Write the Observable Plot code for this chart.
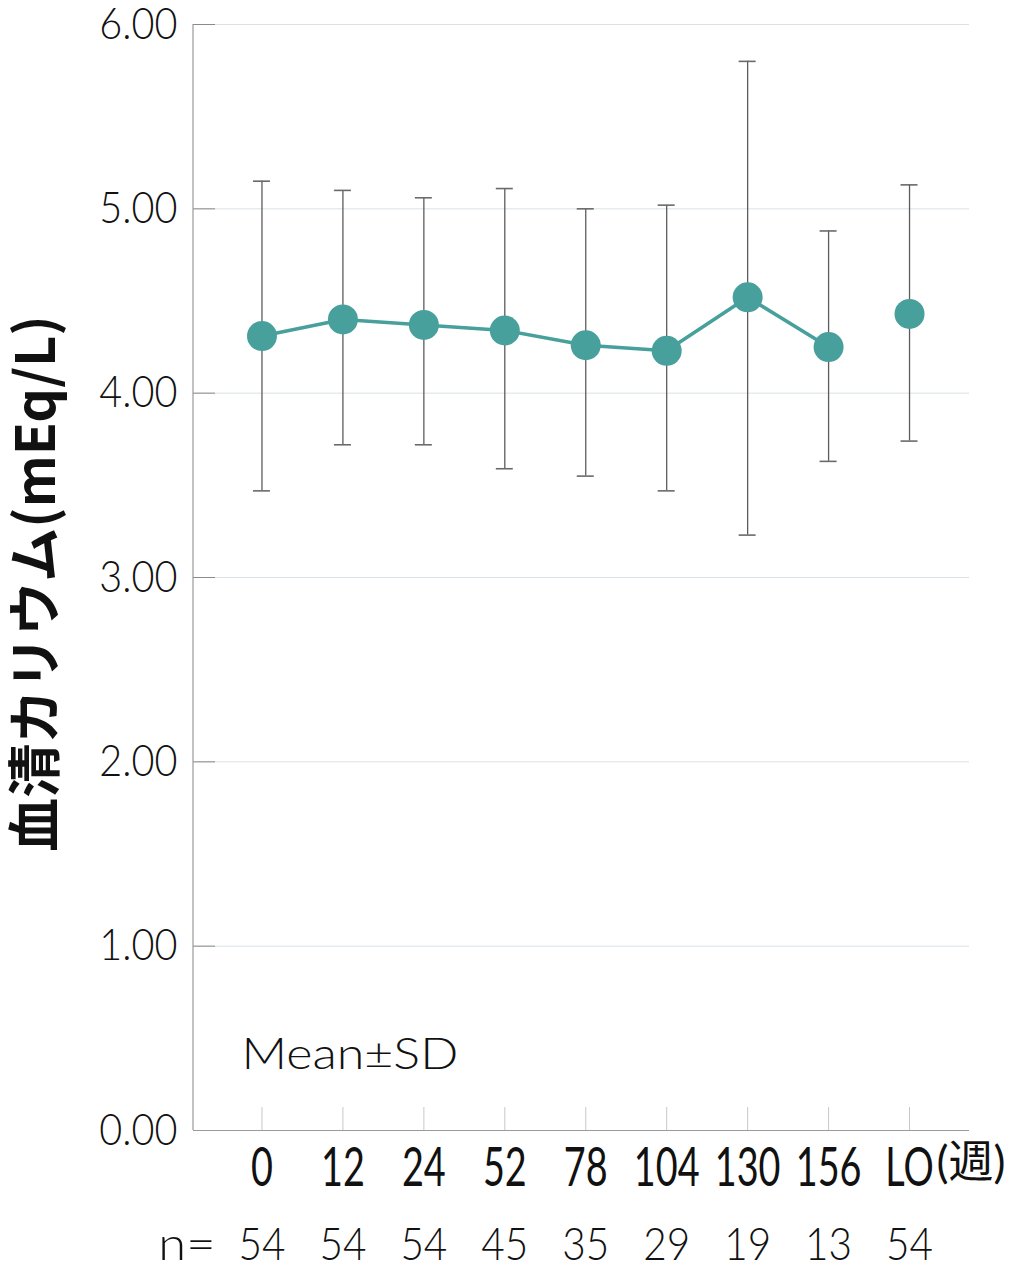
<!DOCTYPE html>
<html>
<head>
<meta charset="utf-8">
<script src="https://cdn.jsdelivr.net/npm/d3@7"></script>
<script src="https://cdn.jsdelivr.net/npm/@observablehq/plot@0.6"></script>
<style>
  html, body { margin: 0; padding: 0; background: #fff; }
</style>
</head>
<body>
<div id="chart"></div>
<script>
const weeks = ["0", "12", "24", "52", "78", "104", "130", "156", "LO"];
const means = [4.31, 4.40, 4.37, 4.34, 4.26, 4.23, 4.52, 4.25, 4.43];
const sdUpper = [5.15, 5.10, 5.06, 5.11, 5.00, 5.02, 5.80, 4.88, 5.13];
const sdLower = [3.47, 3.72, 3.72, 3.59, 3.55, 3.47, 3.23, 3.63, 3.74];
const counts = [54, 54, 54, 45, 35, 29, 19, 13, 54];
const yTicks = [0, 1, 2, 3, 4, 5, 6];
const yTitle = "血清カリウム(mEq/L)";
const unitLabel = "(週)";
const nPrefix = "n=";
const note = "Mean±SD";

const rows = weeks.map((w, i) => ({week: w, mean: means[i], hi: sdUpper[i], lo: sdLower[i], n: counts[i]}));
const connected = rows.filter(d => d.week !== "LO");

const teal = "#48A09C";

const yAxisLine = (index, scales, values, dims) => {
  const g = d3.create("svg:g");
  g.append("line")
    .attr("x1", dims.marginLeft).attr("x2", dims.marginLeft)
    .attr("y1", scales.y(6)).attr("y2", scales.y(0))
    .attr("stroke", "#9a9a9a").attr("stroke-width", 1.2);
  return g.node();
};

const chart = Plot.plot({
  width: 1018,
  height: 1273,
  marginTop: 24,
  marginLeft: 193,
  marginRight: 49,
  marginBottom: 143,
  style: {fontFamily: "Lato, 'Noto Sans CJK JP', sans-serif", background: "white", color: "#111", overflow: "visible"},
  x: {type: "band", domain: weeks, paddingInner: 0.79, paddingOuter: 0.395, insetLeft: 28, insetRight: 19.5, round: false, axis: null},
  y: {domain: [0, 6], axis: null},
  marks: [
    Plot.gridY(yTicks, {stroke: "#d9e1e6", strokeOpacity: 1, strokeWidth: 1}),
    Plot.axisY(yTicks, {tickSize: 22, dx: 22, tickFormat: () => "", stroke: "#8a8a8a", label: null}),
    Plot.axisX({tickSize: 23, dy: -23, tickFormat: () => "", stroke: "#c8c8c8", label: null}),
    Plot.ruleY([0], {stroke: "#9a9a9a", strokeWidth: 1.2}),
    yAxisLine,
    Plot.ruleX(rows, {x: "week", y1: "lo", y2: "hi", stroke: "#5c5c5c", strokeWidth: 1.3}),
    Plot.tickY(rows, {x: "week", y: "hi", stroke: "#6a6a6a", strokeWidth: 1.6}),
    Plot.tickY(rows, {x: "week", y: "lo", stroke: "#6a6a6a", strokeWidth: 1.6}),
    Plot.line(connected, {x: "week", y: "mean", stroke: teal, strokeWidth: 3.5}),
    Plot.dot(rows, {x: "week", y: "mean", r: 15, fill: teal}),
    Plot.axisY(yTicks, {tickSize: 0, tickPadding: 16, tickFormat: d3.format(".2f"), fontSize: 44, fontWeight: 300, label: null, fill: "#111"}),
    Plot.axisX({tickSize: 0, tickPadding: 17, fontSize: 54, fontWeight: 400, label: null, fill: "#111"}),
    Plot.text([unitLabel], {frameAnchor: "bottom-right", dx: -33, dy: 16, textAnchor: "start", lineAnchor: "top", fontSize: 45, fontWeight: 400, fill: "#111", className: "unit-label"}),
    Plot.text(rows, {x: "week", text: d => String(d.n), frameAnchor: "bottom", dy: 97, lineAnchor: "top", fontSize: 46, fontWeight: 300, fill: "#111", className: "n-label"}),
    Plot.text([nPrefix], {frameAnchor: "bottom-left", dx: 22, dy: 97, textAnchor: "end", lineAnchor: "top", fontSize: 46, fontWeight: 300, fill: "#111", className: "n-prefix"}),
    Plot.text([note], {frameAnchor: "bottom-left", dx: 48, dy: -93, textAnchor: "start", lineAnchor: "top", fontSize: 44, fontWeight: 300, fill: "#111", className: "note-label"}),
    Plot.text([yTitle], {frameAnchor: "left", dx: -156, dy: 6, rotate: -90, textAnchor: "middle", lineAnchor: "middle", fontSize: 54, fontWeight: 700, fontFamily: "'Noto Sans CJK JP', sans-serif", fill: "#111", className: "y-title"})
  ]
});

const squeezeSel = (sel, k) => {
  chart.querySelectorAll(sel).forEach(t => {
    t.setAttribute("transform", (t.getAttribute("transform") || "") + ` scale(${k},1)`);
  });
};
squeezeSel('g[aria-label="y-axis tick label"] text', 0.9);
squeezeSel('g[aria-label="x-axis tick label"] text', 0.7);
squeezeSel('.n-label text', 0.88);
squeezeSel('.n-prefix text', 1.1);
squeezeSel('.note-label text', 1.14);

document.getElementById("chart").appendChild(chart);
</script>
</body>
</html>
